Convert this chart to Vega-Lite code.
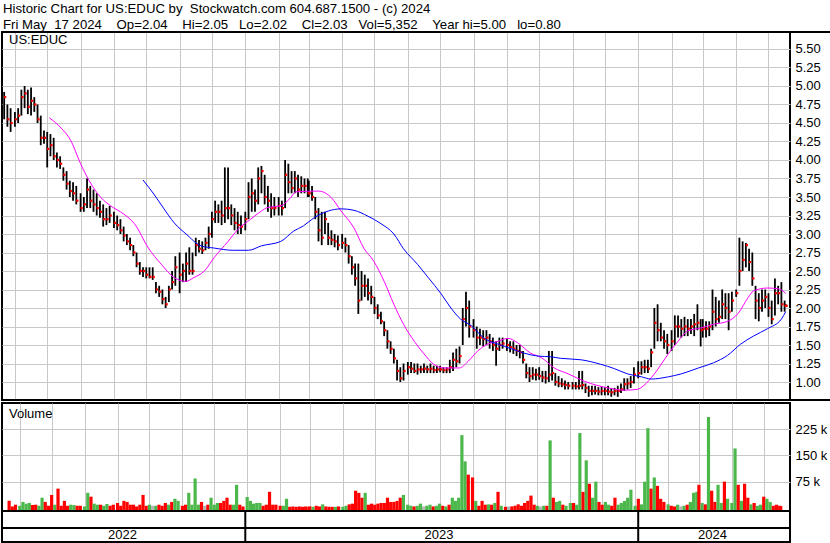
{
"$schema":"https://vega.github.io/schema/vega-lite/v6.json",
"background":"white",
"padding":{"left":0,"top":2,"right":0,"bottom":0},
"title":{"text":["Historic Chart for US:EDUC by\u00a0 Stockwatch.com 604.687.1500 - (c) 2024","Fri May\u00a0 17 2024\u00a0\u00a0\u00a0\u00a0Op=2.04\u00a0\u00a0\u00a0\u00a0Hi=2.05\u00a0\u00a0\u00a0Lo=2.02\u00a0\u00a0\u00a0\u00a0Cl=2.03\u00a0\u00a0\u00a0Vol=5,352\u00a0\u00a0\u00a0\u00a0Year hi=5.00\u00a0\u00a0\u00a0lo=0.80"],"anchor":"start","frame":"group","font":"Liberation Sans","fontSize":13.2,"fontWeight":"normal","color":"#000000","lineHeight":15.6,"offset":-2,"dx":1},
"config":{
 "view":{"stroke":"#000000","strokeWidth":2},
 "axis":{"labelFont":"Liberation Sans","labelFontSize":13,"labelColor":"#000000","gridColor":"#c8c8c8","gridWidth":1,"gridOpacity":1,"minExtent":0,"ticks":false,"tickSize":0,"domain":false}
},
"datasets":{
"px":[
{"d":"2022-05-22","h":4.92,"l":4.55,"c":4.85,"v":20,"u":0},
{"d":"2022-05-25","h":4.75,"l":4.45,"c":4.55,"v":4,"u":0},
{"d":"2022-05-28","h":4.70,"l":4.38,"c":4.50,"v":9,"u":0},
{"d":"2022-06-01","h":4.65,"l":4.45,"c":4.55,"v":6,"u":1},
{"d":"2022-06-04","h":4.70,"l":4.50,"c":4.60,"v":17,"u":1},
{"d":"2022-06-07","h":4.95,"l":4.60,"c":4.85,"v":12,"u":1},
{"d":"2022-06-10","h":5.00,"l":4.70,"c":4.90,"v":14,"u":1},
{"d":"2022-06-13","h":4.95,"l":4.62,"c":4.72,"v":8,"u":0},
{"d":"2022-06-16","h":4.98,"l":4.60,"c":4.80,"v":9,"u":0},
{"d":"2022-06-19","h":4.85,"l":4.65,"c":4.75,"v":6,"u":1},
{"d":"2022-06-22","h":4.75,"l":4.50,"c":4.55,"v":29,"u":1},
{"d":"2022-06-25","h":4.60,"l":4.20,"c":4.30,"v":17,"u":0},
{"d":"2022-06-28","h":4.40,"l":4.22,"c":4.30,"v":6,"u":0},
{"d":"2022-07-01","h":4.38,"l":3.90,"c":4.15,"v":37,"u":0},
{"d":"2022-07-04","h":4.35,"l":4.05,"c":4.20,"v":9,"u":1},
{"d":"2022-07-07","h":4.30,"l":4.00,"c":4.05,"v":55,"u":0},
{"d":"2022-07-10","h":4.10,"l":3.90,"c":4.00,"v":6,"u":0},
{"d":"2022-07-13","h":4.05,"l":3.88,"c":3.95,"v":20,"u":0},
{"d":"2022-07-16","h":3.90,"l":3.72,"c":3.80,"v":6,"u":0},
{"d":"2022-07-19","h":3.85,"l":3.60,"c":3.68,"v":9,"u":1},
{"d":"2022-07-22","h":3.72,"l":3.50,"c":3.58,"v":8,"u":1},
{"d":"2022-07-25","h":3.70,"l":3.45,"c":3.55,"v":6,"u":0},
{"d":"2022-07-28","h":3.65,"l":3.40,"c":3.45,"v":6,"u":0},
{"d":"2022-08-01","h":3.55,"l":3.30,"c":3.35,"v":4,"u":1},
{"d":"2022-08-04","h":3.50,"l":3.30,"c":3.40,"v":43,"u":1},
{"d":"2022-08-07","h":3.75,"l":3.35,"c":3.60,"v":32,"u":0},
{"d":"2022-08-10","h":3.65,"l":3.35,"c":3.45,"v":12,"u":1},
{"d":"2022-08-13","h":3.60,"l":3.30,"c":3.40,"v":9,"u":1},
{"d":"2022-08-16","h":3.55,"l":3.25,"c":3.35,"v":9,"u":0},
{"d":"2022-08-19","h":3.45,"l":3.22,"c":3.30,"v":6,"u":1},
{"d":"2022-08-22","h":3.40,"l":3.10,"c":3.20,"v":11,"u":1},
{"d":"2022-08-25","h":3.35,"l":3.12,"c":3.20,"v":6,"u":0},
{"d":"2022-08-28","h":3.38,"l":3.15,"c":3.25,"v":9,"u":0},
{"d":"2022-09-01","h":3.30,"l":3.08,"c":3.15,"v":14,"u":0},
{"d":"2022-09-04","h":3.25,"l":3.05,"c":3.12,"v":6,"u":0},
{"d":"2022-09-07","h":3.20,"l":3.00,"c":3.05,"v":20,"u":0},
{"d":"2022-09-10","h":3.10,"l":2.90,"c":2.98,"v":17,"u":0},
{"d":"2022-09-13","h":3.00,"l":2.85,"c":2.90,"v":9,"u":0},
{"d":"2022-09-16","h":2.95,"l":2.78,"c":2.85,"v":9,"u":0},
{"d":"2022-09-19","h":2.85,"l":2.70,"c":2.75,"v":4,"u":0},
{"d":"2022-09-22","h":2.75,"l":2.55,"c":2.60,"v":9,"u":0},
{"d":"2022-09-25","h":2.62,"l":2.45,"c":2.50,"v":37,"u":0},
{"d":"2022-09-28","h":2.55,"l":2.42,"c":2.50,"v":6,"u":0},
{"d":"2022-10-01","h":2.55,"l":2.40,"c":2.45,"v":9,"u":1},
{"d":"2022-10-04","h":2.55,"l":2.40,"c":2.42,"v":6,"u":2},
{"d":"2022-10-07","h":2.55,"l":2.38,"c":2.42,"v":6,"u":1},
{"d":"2022-10-10","h":2.35,"l":2.20,"c":2.25,"v":9,"u":0},
{"d":"2022-10-13","h":2.30,"l":2.15,"c":2.22,"v":6,"u":0},
{"d":"2022-10-16","h":2.25,"l":2.05,"c":2.12,"v":14,"u":0},
{"d":"2022-10-19","h":2.15,"l":2.00,"c":2.05,"v":9,"u":1},
{"d":"2022-10-22","h":2.30,"l":2.08,"c":2.25,"v":17,"u":0},
{"d":"2022-10-25","h":2.50,"l":2.25,"c":2.35,"v":26,"u":1},
{"d":"2022-10-28","h":2.70,"l":2.30,"c":2.55,"v":20,"u":1},
{"d":"2022-11-01","h":2.75,"l":2.20,"c":2.45,"v":6,"u":0},
{"d":"2022-11-04","h":2.60,"l":2.35,"c":2.50,"v":9,"u":0},
{"d":"2022-11-07","h":2.75,"l":2.35,"c":2.60,"v":43,"u":1},
{"d":"2022-11-10","h":2.82,"l":2.45,"c":2.50,"v":9,"u":1},
{"d":"2022-11-13","h":2.75,"l":2.45,"c":2.50,"v":84,"u":1},
{"d":"2022-11-16","h":2.95,"l":2.70,"c":2.85,"v":9,"u":1},
{"d":"2022-11-19","h":2.92,"l":2.75,"c":2.80,"v":17,"u":0},
{"d":"2022-11-22","h":2.90,"l":2.73,"c":2.78,"v":6,"u":2},
{"d":"2022-11-25","h":2.95,"l":2.78,"c":2.88,"v":9,"u":0},
{"d":"2022-11-28","h":3.10,"l":2.80,"c":3.00,"v":29,"u":1},
{"d":"2022-12-01","h":3.30,"l":2.95,"c":3.20,"v":9,"u":1},
{"d":"2022-12-04","h":3.45,"l":3.15,"c":3.30,"v":14,"u":1},
{"d":"2022-12-07","h":3.40,"l":3.15,"c":3.30,"v":14,"u":0},
{"d":"2022-12-10","h":3.45,"l":3.12,"c":3.25,"v":20,"u":0},
{"d":"2022-12-13","h":3.90,"l":3.15,"c":3.35,"v":29,"u":0},
{"d":"2022-12-16","h":3.90,"l":3.20,"c":3.35,"v":9,"u":0},
{"d":"2022-12-19","h":3.40,"l":3.12,"c":3.25,"v":9,"u":1},
{"d":"2022-12-22","h":3.35,"l":3.05,"c":3.15,"v":66,"u":1},
{"d":"2022-12-25","h":3.30,"l":3.00,"c":3.12,"v":9,"u":0},
{"d":"2022-12-28","h":3.25,"l":3.00,"c":3.10,"v":4,"u":0},
{"d":"2023-01-01","h":3.30,"l":3.05,"c":3.20,"v":31,"u":1},
{"d":"2023-01-04","h":3.70,"l":3.20,"c":3.50,"v":20,"u":1},
{"d":"2023-01-07","h":3.75,"l":3.30,"c":3.55,"v":12,"u":1},
{"d":"2023-01-10","h":3.60,"l":3.30,"c":3.45,"v":14,"u":1},
{"d":"2023-01-13","h":3.90,"l":3.40,"c":3.75,"v":14,"u":1},
{"d":"2023-01-16","h":3.92,"l":3.55,"c":3.85,"v":6,"u":0},
{"d":"2023-01-19","h":3.80,"l":3.40,"c":3.50,"v":9,"u":0},
{"d":"2023-01-22","h":3.65,"l":3.30,"c":3.45,"v":46,"u":0},
{"d":"2023-01-25","h":3.55,"l":3.22,"c":3.35,"v":9,"u":0},
{"d":"2023-01-28","h":3.50,"l":3.25,"c":3.35,"v":9,"u":0},
{"d":"2023-02-01","h":3.50,"l":3.25,"c":3.38,"v":6,"u":0},
{"d":"2023-02-04","h":3.45,"l":3.25,"c":3.35,"v":6,"u":1},
{"d":"2023-02-07","h":4.00,"l":3.35,"c":3.80,"v":26,"u":1},
{"d":"2023-02-10","h":3.95,"l":3.55,"c":3.70,"v":3,"u":0},
{"d":"2023-02-13","h":3.85,"l":3.55,"c":3.62,"v":4,"u":0},
{"d":"2023-02-16","h":3.85,"l":3.55,"c":3.75,"v":3,"u":0},
{"d":"2023-02-19","h":3.80,"l":3.50,"c":3.60,"v":4,"u":0},
{"d":"2023-02-22","h":3.78,"l":3.55,"c":3.65,"v":3,"u":0},
{"d":"2023-02-25","h":3.75,"l":3.55,"c":3.65,"v":4,"u":0},
{"d":"2023-02-28","h":3.75,"l":3.50,"c":3.55,"v":3,"u":0},
{"d":"2023-03-01","h":3.72,"l":3.50,"c":3.55,"v":4,"u":0},
{"d":"2023-03-04","h":3.65,"l":3.45,"c":3.50,"v":3,"u":1},
{"d":"2023-03-07","h":3.50,"l":3.20,"c":3.30,"v":6,"u":0},
{"d":"2023-03-10","h":3.35,"l":2.90,"c":3.05,"v":4,"u":0},
{"d":"2023-03-13","h":3.30,"l":2.85,"c":2.95,"v":10,"u":1},
{"d":"2023-03-16","h":3.30,"l":3.00,"c":3.20,"v":4,"u":0},
{"d":"2023-03-19","h":3.15,"l":2.85,"c":2.95,"v":3,"u":0},
{"d":"2023-03-22","h":3.05,"l":2.85,"c":2.92,"v":3,"u":0},
{"d":"2023-03-25","h":3.00,"l":2.82,"c":2.90,"v":3,"u":1},
{"d":"2023-03-28","h":2.98,"l":2.78,"c":2.85,"v":4,"u":0},
{"d":"2023-04-01","h":3.00,"l":2.80,"c":2.88,"v":3,"u":1},
{"d":"2023-04-04","h":2.95,"l":2.75,"c":2.85,"v":6,"u":1},
{"d":"2023-04-07","h":2.85,"l":2.60,"c":2.70,"v":10,"u":0},
{"d":"2023-04-10","h":2.70,"l":2.45,"c":2.55,"v":12,"u":0},
{"d":"2023-04-13","h":2.60,"l":2.30,"c":2.40,"v":49,"u":0},
{"d":"2023-04-16","h":2.60,"l":1.92,"c":2.10,"v":43,"u":0},
{"d":"2023-04-19","h":2.50,"l":2.10,"c":2.30,"v":29,"u":0},
{"d":"2023-04-22","h":2.45,"l":2.15,"c":2.30,"v":43,"u":1},
{"d":"2023-04-25","h":2.40,"l":2.10,"c":2.20,"v":9,"u":0},
{"d":"2023-04-28","h":2.30,"l":2.05,"c":2.15,"v":12,"u":0},
{"d":"2023-05-01","h":2.15,"l":1.92,"c":2.00,"v":9,"u":0},
{"d":"2023-05-04","h":2.05,"l":1.85,"c":1.90,"v":12,"u":0},
{"d":"2023-05-07","h":1.95,"l":1.78,"c":1.82,"v":14,"u":0},
{"d":"2023-05-10","h":1.82,"l":1.62,"c":1.70,"v":14,"u":0},
{"d":"2023-05-13","h":1.70,"l":1.45,"c":1.55,"v":29,"u":0},
{"d":"2023-05-16","h":1.55,"l":1.38,"c":1.45,"v":17,"u":0},
{"d":"2023-05-19","h":1.45,"l":1.25,"c":1.32,"v":17,"u":0},
{"d":"2023-05-22","h":1.30,"l":1.02,"c":1.15,"v":20,"u":0},
{"d":"2023-05-25","h":1.20,"l":1.00,"c":1.05,"v":29,"u":0},
{"d":"2023-05-28","h":1.25,"l":1.02,"c":1.15,"v":37,"u":1},
{"d":"2023-06-01","h":1.27,"l":1.10,"c":1.20,"v":9,"u":1},
{"d":"2023-06-04","h":1.27,"l":1.12,"c":1.18,"v":6,"u":1},
{"d":"2023-06-07","h":1.25,"l":1.12,"c":1.15,"v":4,"u":0},
{"d":"2023-06-10","h":1.25,"l":1.10,"c":1.17,"v":6,"u":1},
{"d":"2023-06-13","h":1.22,"l":1.12,"c":1.17,"v":12,"u":1},
{"d":"2023-06-16","h":1.25,"l":1.12,"c":1.18,"v":4,"u":2},
{"d":"2023-06-19","h":1.22,"l":1.12,"c":1.17,"v":6,"u":1},
{"d":"2023-06-22","h":1.25,"l":1.12,"c":1.18,"v":9,"u":1},
{"d":"2023-06-25","h":1.22,"l":1.12,"c":1.16,"v":4,"u":0},
{"d":"2023-06-28","h":1.22,"l":1.12,"c":1.17,"v":6,"u":1},
{"d":"2023-07-01","h":1.22,"l":1.13,"c":1.17,"v":12,"u":1},
{"d":"2023-07-04","h":1.20,"l":1.12,"c":1.16,"v":6,"u":0},
{"d":"2023-07-07","h":1.20,"l":1.12,"c":1.17,"v":4,"u":1},
{"d":"2023-07-10","h":1.30,"l":1.12,"c":1.20,"v":9,"u":0},
{"d":"2023-07-13","h":1.40,"l":1.15,"c":1.30,"v":29,"u":1},
{"d":"2023-07-16","h":1.45,"l":1.20,"c":1.28,"v":20,"u":1},
{"d":"2023-07-19","h":1.48,"l":1.25,"c":1.35,"v":29,"u":1},
{"d":"2023-07-22","h":2.00,"l":1.50,"c":1.85,"v":208,"u":1},
{"d":"2023-07-25","h":2.22,"l":1.75,"c":2.00,"v":133,"u":1},
{"d":"2023-07-28","h":2.10,"l":1.60,"c":1.75,"v":95,"u":0},
{"d":"2023-08-01","h":1.85,"l":1.60,"c":1.70,"v":87,"u":0},
{"d":"2023-08-04","h":1.75,"l":1.45,"c":1.60,"v":20,"u":1},
{"d":"2023-08-07","h":1.72,"l":1.50,"c":1.60,"v":6,"u":0},
{"d":"2023-08-10","h":1.70,"l":1.48,"c":1.58,"v":20,"u":0},
{"d":"2023-08-13","h":1.70,"l":1.50,"c":1.60,"v":9,"u":0},
{"d":"2023-08-16","h":1.65,"l":1.45,"c":1.55,"v":10,"u":1},
{"d":"2023-08-19","h":1.60,"l":1.42,"c":1.50,"v":9,"u":0},
{"d":"2023-08-22","h":1.55,"l":1.22,"c":1.45,"v":14,"u":1},
{"d":"2023-08-25","h":1.60,"l":1.42,"c":1.50,"v":46,"u":0},
{"d":"2023-08-28","h":1.60,"l":1.45,"c":1.52,"v":6,"u":1},
{"d":"2023-09-01","h":1.58,"l":1.42,"c":1.50,"v":3,"u":0},
{"d":"2023-09-04","h":1.55,"l":1.40,"c":1.47,"v":4,"u":2},
{"d":"2023-09-07","h":1.55,"l":1.38,"c":1.45,"v":4,"u":0},
{"d":"2023-09-10","h":1.50,"l":1.35,"c":1.42,"v":6,"u":0},
{"d":"2023-09-13","h":1.50,"l":1.32,"c":1.40,"v":10,"u":0},
{"d":"2023-09-16","h":1.42,"l":1.25,"c":1.30,"v":6,"u":0},
{"d":"2023-09-19","h":1.25,"l":1.05,"c":1.12,"v":14,"u":0},
{"d":"2023-09-22","h":1.20,"l":1.00,"c":1.08,"v":20,"u":0},
{"d":"2023-09-25","h":1.20,"l":1.03,"c":1.10,"v":35,"u":0},
{"d":"2023-09-28","h":1.18,"l":1.02,"c":1.10,"v":9,"u":0},
{"d":"2023-10-01","h":1.20,"l":1.03,"c":1.08,"v":6,"u":1},
{"d":"2023-10-04","h":1.15,"l":1.00,"c":1.06,"v":4,"u":2},
{"d":"2023-10-07","h":1.15,"l":0.98,"c":1.05,"v":6,"u":1},
{"d":"2023-10-10","h":1.42,"l":1.00,"c":1.10,"v":6,"u":0},
{"d":"2023-10-13","h":1.42,"l":1.02,"c":1.12,"v":193,"u":1},
{"d":"2023-10-16","h":1.12,"l":0.95,"c":1.00,"v":29,"u":0},
{"d":"2023-10-19","h":1.08,"l":0.93,"c":0.98,"v":17,"u":1},
{"d":"2023-10-22","h":1.05,"l":0.93,"c":0.97,"v":20,"u":1},
{"d":"2023-10-25","h":1.02,"l":0.90,"c":0.96,"v":9,"u":0},
{"d":"2023-10-28","h":1.00,"l":0.90,"c":0.95,"v":6,"u":1},
{"d":"2023-11-01","h":1.00,"l":0.90,"c":0.95,"v":14,"u":1},
{"d":"2023-11-04","h":1.00,"l":0.90,"c":0.94,"v":14,"u":0},
{"d":"2023-11-07","h":1.15,"l":0.90,"c":0.95,"v":9,"u":1},
{"d":"2023-11-10","h":1.15,"l":0.90,"c":0.96,"v":214,"u":1},
{"d":"2023-11-13","h":0.98,"l":0.85,"c":0.92,"v":46,"u":0},
{"d":"2023-11-16","h":0.95,"l":0.80,"c":0.88,"v":136,"u":1},
{"d":"2023-11-19","h":0.95,"l":0.82,"c":0.88,"v":69,"u":0},
{"d":"2023-11-22","h":0.95,"l":0.83,"c":0.88,"v":29,"u":1},
{"d":"2023-11-25","h":0.93,"l":0.82,"c":0.87,"v":75,"u":1},
{"d":"2023-11-28","h":0.94,"l":0.82,"c":0.88,"v":17,"u":0},
{"d":"2023-12-01","h":0.93,"l":0.82,"c":0.88,"v":9,"u":0},
{"d":"2023-12-04","h":0.95,"l":0.82,"c":0.87,"v":17,"u":1},
{"d":"2023-12-07","h":0.92,"l":0.80,"c":0.86,"v":9,"u":1},
{"d":"2023-12-10","h":0.92,"l":0.82,"c":0.88,"v":6,"u":0},
{"d":"2023-12-13","h":0.95,"l":0.80,"c":0.88,"v":29,"u":0},
{"d":"2023-12-16","h":0.98,"l":0.85,"c":0.90,"v":9,"u":1},
{"d":"2023-12-19","h":1.05,"l":0.88,"c":0.97,"v":14,"u":1},
{"d":"2023-12-22","h":1.05,"l":0.90,"c":0.98,"v":20,"u":1},
{"d":"2023-12-25","h":1.08,"l":0.92,"c":1.00,"v":29,"u":1},
{"d":"2023-12-28","h":1.20,"l":0.98,"c":1.10,"v":52,"u":1},
{"d":"2024-01-01","h":1.28,"l":1.05,"c":1.12,"v":6,"u":1},
{"d":"2024-01-04","h":1.28,"l":1.10,"c":1.20,"v":26,"u":0},
{"d":"2024-01-07","h":1.30,"l":1.12,"c":1.20,"v":10,"u":1},
{"d":"2024-01-10","h":1.30,"l":1.12,"c":1.18,"v":75,"u":1},
{"d":"2024-01-13","h":1.45,"l":1.20,"c":1.40,"v":228,"u":1},
{"d":"2024-01-16","h":2.00,"l":1.45,"c":1.80,"v":55,"u":0},
{"d":"2024-01-19","h":2.05,"l":1.55,"c":1.70,"v":87,"u":1},
{"d":"2024-01-22","h":1.80,"l":1.55,"c":1.60,"v":63,"u":0},
{"d":"2024-01-25","h":1.70,"l":1.45,"c":1.55,"v":26,"u":0},
{"d":"2024-01-28","h":1.65,"l":1.38,"c":1.50,"v":17,"u":0},
{"d":"2024-02-01","h":1.70,"l":1.42,"c":1.55,"v":10,"u":1},
{"d":"2024-02-04","h":1.90,"l":1.50,"c":1.75,"v":6,"u":0},
{"d":"2024-02-07","h":1.90,"l":1.60,"c":1.75,"v":4,"u":0},
{"d":"2024-02-10","h":1.85,"l":1.60,"c":1.72,"v":9,"u":1},
{"d":"2024-02-13","h":1.88,"l":1.62,"c":1.75,"v":4,"u":2},
{"d":"2024-02-16","h":1.85,"l":1.62,"c":1.72,"v":6,"u":1},
{"d":"2024-02-19","h":1.85,"l":1.65,"c":1.75,"v":9,"u":0},
{"d":"2024-02-22","h":1.92,"l":1.62,"c":1.78,"v":17,"u":1},
{"d":"2024-02-25","h":2.05,"l":1.70,"c":1.80,"v":43,"u":1},
{"d":"2024-02-28","h":1.85,"l":1.48,"c":1.70,"v":46,"u":1},
{"d":"2024-03-01","h":1.85,"l":1.60,"c":1.72,"v":66,"u":0},
{"d":"2024-03-04","h":1.82,"l":1.60,"c":1.72,"v":14,"u":1},
{"d":"2024-03-07","h":1.82,"l":1.62,"c":1.75,"v":10,"u":0},
{"d":"2024-03-10","h":2.25,"l":1.70,"c":1.95,"v":260,"u":1},
{"d":"2024-03-13","h":2.15,"l":1.75,"c":1.85,"v":49,"u":0},
{"d":"2024-03-16","h":2.10,"l":1.80,"c":1.88,"v":17,"u":0},
{"d":"2024-03-19","h":2.25,"l":1.85,"c":2.05,"v":66,"u":1},
{"d":"2024-03-22","h":2.20,"l":1.85,"c":2.00,"v":14,"u":1},
{"d":"2024-03-25","h":2.20,"l":1.70,"c":1.95,"v":75,"u":0},
{"d":"2024-03-28","h":2.22,"l":1.95,"c":2.10,"v":26,"u":1},
{"d":"2024-04-01","h":2.25,"l":2.15,"c":2.20,"v":14,"u":1},
{"d":"2024-04-04","h":2.95,"l":2.30,"c":2.50,"v":170,"u":1},
{"d":"2024-04-07","h":2.90,"l":2.50,"c":2.65,"v":66,"u":0},
{"d":"2024-04-10","h":2.88,"l":2.55,"c":2.85,"v":20,"u":1},
{"d":"2024-04-13","h":2.80,"l":2.50,"c":2.62,"v":69,"u":0},
{"d":"2024-04-16","h":2.75,"l":2.30,"c":2.40,"v":29,"u":0},
{"d":"2024-04-19","h":2.30,"l":1.85,"c":2.10,"v":10,"u":1},
{"d":"2024-04-22","h":2.20,"l":1.82,"c":2.00,"v":14,"u":0},
{"d":"2024-04-25","h":2.25,"l":1.95,"c":2.10,"v":6,"u":1},
{"d":"2024-04-28","h":2.25,"l":2.00,"c":2.15,"v":9,"u":1},
{"d":"2024-05-01","h":2.20,"l":1.88,"c":2.00,"v":32,"u":0},
{"d":"2024-05-04","h":2.10,"l":1.78,"c":1.85,"v":26,"u":1},
{"d":"2024-05-07","h":2.40,"l":1.90,"c":2.20,"v":17,"u":1},
{"d":"2024-05-10","h":2.30,"l":2.05,"c":2.20,"v":6,"u":0},
{"d":"2024-05-13","h":2.35,"l":1.95,"c":2.05,"v":9,"u":0},
{"d":"2024-05-16","h":2.10,"l":1.95,"c":2.03,"v":6,"u":0},
{"d":"2024-05-17","h":2.05,"l":2.02,"c":2.03,"v":5,"u":0}
],
"ma1":[
{"d":"2022-07-03","m":4.57},{"d":"2022-07-14","m":4.43},{"d":"2022-07-23","m":4.26},{"d":"2022-08-01","m":3.95},{"d":"2022-08-09","m":3.72},{"d":"2022-08-20","m":3.49},{"d":"2022-08-29","m":3.38},{"d":"2022-09-10","m":3.27},{"d":"2022-09-20","m":3.14},{"d":"2022-10-03","m":2.81},{"d":"2022-10-15","m":2.59},{"d":"2022-10-27","m":2.41},{"d":"2022-11-07","m":2.36},{"d":"2022-11-14","m":2.41},{"d":"2022-11-24","m":2.50},{"d":"2022-12-03","m":2.68},{"d":"2022-12-16","m":2.90},{"d":"2022-12-25","m":3.06},{"d":"2023-01-06","m":3.20},{"d":"2023-01-16","m":3.31},{"d":"2023-01-22","m":3.36},{"d":"2023-02-03","m":3.38},{"d":"2023-02-12","m":3.49},{"d":"2023-02-17","m":3.57},{"d":"2023-03-10","m":3.58},{"d":"2023-03-22","m":3.49},{"d":"2023-03-31","m":3.31},{"d":"2023-04-12","m":3.08},{"d":"2023-04-21","m":2.81},{"d":"2023-04-30","m":2.64},{"d":"2023-05-10","m":2.36},{"d":"2023-05-19","m":2.05},{"d":"2023-05-28","m":1.78},{"d":"2023-06-07","m":1.55},{"d":"2023-06-16","m":1.38},{"d":"2023-06-25","m":1.24},{"d":"2023-07-05","m":1.19},{"d":"2023-07-19","m":1.19},{"d":"2023-07-27","m":1.28},{"d":"2023-08-05","m":1.42},{"d":"2023-08-14","m":1.51},{"d":"2023-08-24","m":1.55},{"d":"2023-09-02","m":1.59},{"d":"2023-09-11","m":1.53},{"d":"2023-09-23","m":1.39},{"d":"2023-10-03","m":1.33},{"d":"2023-10-15","m":1.19},{"d":"2023-10-28","m":1.11},{"d":"2023-11-12","m":1.01},{"d":"2023-12-04","m":0.92},{"d":"2023-12-19","m":0.89},{"d":"2023-12-31","m":0.90},{"d":"2024-01-06","m":0.95},{"d":"2024-01-16","m":1.11},{"d":"2024-01-29","m":1.38},{"d":"2024-02-07","m":1.55},{"d":"2024-02-16","m":1.69},{"d":"2024-02-28","m":1.73},{"d":"2024-03-11","m":1.78},{"d":"2024-03-24","m":1.82},{"d":"2024-04-03","m":1.93},{"d":"2024-04-12","m":2.14},{"d":"2024-04-17","m":2.23},{"d":"2024-04-30","m":2.27},{"d":"2024-05-10","m":2.26},{"d":"2024-05-17","m":2.20}
],
"ma2":[
{"d":"2022-09-28","m":3.73},{"d":"2022-10-08","m":3.54},{"d":"2022-10-17","m":3.35},{"d":"2022-10-27","m":3.15},{"d":"2022-11-07","m":3.00},{"d":"2022-11-21","m":2.84},{"d":"2022-12-03","m":2.81},{"d":"2022-12-21","m":2.78},{"d":"2023-01-04","m":2.78},{"d":"2023-01-16","m":2.84},{"d":"2023-02-03","m":2.90},{"d":"2023-02-15","m":3.04},{"d":"2023-02-24","m":3.11},{"d":"2023-03-06","m":3.22},{"d":"2023-03-19","m":3.31},{"d":"2023-03-31","m":3.34},{"d":"2023-04-12","m":3.32},{"d":"2023-04-25","m":3.24},{"d":"2023-05-07","m":3.14},{"d":"2023-05-19","m":3.00},{"d":"2023-05-28","m":2.80},{"d":"2023-06-10","m":2.59},{"d":"2023-06-20","m":2.41},{"d":"2023-07-02","m":2.19},{"d":"2023-07-11","m":2.00},{"d":"2023-07-20","m":1.85},{"d":"2023-07-30","m":1.76},{"d":"2023-08-11","m":1.59},{"d":"2023-08-24","m":1.51},{"d":"2023-09-05","m":1.45},{"d":"2023-09-17","m":1.39},{"d":"2023-09-30","m":1.35},{"d":"2023-10-12","m":1.34},{"d":"2023-10-21","m":1.32},{"d":"2023-11-09","m":1.30},{"d":"2023-11-27","m":1.24},{"d":"2023-12-10","m":1.18},{"d":"2023-12-22","m":1.11},{"d":"2024-01-04","m":1.07},{"d":"2024-01-13","m":1.04},{"d":"2024-01-29","m":1.07},{"d":"2024-02-10","m":1.11},{"d":"2024-02-26","m":1.19},{"d":"2024-03-11","m":1.26},{"d":"2024-03-24","m":1.36},{"d":"2024-04-05","m":1.51},{"d":"2024-04-17","m":1.62},{"d":"2024-04-30","m":1.72},{"d":"2024-05-13","m":1.85},{"d":"2024-05-17","m":1.95}
],
"edges":[{"d":"2022-05-20","d2":"2024-06-30","p":5.7297},{"d":"2022-05-20","d2":"2024-06-30","p":0.7568}],
"yb":[{"d":"2023-01-01"},{"d":"2024-01-01"}],
"yr":[{"d":"2022-09-09","t":"2022"},{"d":"2023-06-30","t":"2023"},{"d":"2024-03-10","t":"2024"}]
},
"bounds":"flush",
"spacing":3,
"vconcat":[
{
 "width":788,"height":368,
 "title":{"text":"US:EDUC","anchor":"start","frame":"group","offset":-16,"dx":7,"font":"Liberation Sans","fontSize":13,"fontWeight":"normal","color":"#000000"},
 "encoding":{"x":{"field":"d","type":"temporal","scale":{"type":"utc","domain":[{"year":2022,"month":5,"date":20,"utc":true},{"year":2024,"month":5,"date":21,"utc":true}]},"axis":{"grid":true,"labels":false,"tickCount":{"interval":"month","step":1},"title":null}}},
 "layer":[
  {"data":{"name":"px"},"mark":{"type":"rule","color":"#000000","strokeWidth":1.8},
   "encoding":{"y":{"field":"l","type":"quantitative","scale":{"domain":[0.7568,5.7297],"nice":false,"zero":false},"axis":{"orient":"right","values":[1,1.25,1.5,1.75,2,2.25,2.5,2.75,3,3.25,3.5,3.75,4,4.25,4.5,4.75,5,5.25,5.5],"labelExpr":"format(datum.value, '.2f')","labelOverlap":false,"grid":true,"labelPadding":5,"title":null}},"y2":{"field":"h"}}},
  {"data":{"name":"px"},"mark":{"type":"square","color":"#ff0000","size":5,"opacity":1,"xOffset":1},
   "encoding":{"y":{"field":"c","type":"quantitative","scale":{"domain":[0.7568,5.7297],"nice":false,"zero":false},"axis":{"orient":"right","values":[1,1.25,1.5,1.75,2,2.25,2.5,2.75,3,3.25,3.5,3.75,4,4.25,4.5,4.75,5,5.25,5.5],"labelExpr":"format(datum.value, '.2f')","labelOverlap":false,"grid":true,"labelPadding":5,"title":null}}}},
  {"data":{"name":"ma1"},"mark":{"type":"line","color":"#ff00ff","strokeWidth":1,"interpolate":"monotone"},
   "encoding":{"y":{"field":"m","type":"quantitative","scale":{"domain":[0.7568,5.7297],"nice":false,"zero":false},"axis":{"orient":"right","values":[1,1.25,1.5,1.75,2,2.25,2.5,2.75,3,3.25,3.5,3.75,4,4.25,4.5,4.75,5,5.25,5.5],"labelExpr":"format(datum.value, '.2f')","labelOverlap":false,"grid":true,"labelPadding":5,"title":null}}}},
  {"data":{"name":"ma2"},"mark":{"type":"line","color":"#0000ff","strokeWidth":1,"interpolate":"monotone"},
   "encoding":{"y":{"field":"m","type":"quantitative","scale":{"domain":[0.7568,5.7297],"nice":false,"zero":false},"axis":{"orient":"right","values":[1,1.25,1.5,1.75,2,2.25,2.5,2.75,3,3.25,3.5,3.75,4,4.25,4.5,4.75,5,5.25,5.5],"labelExpr":"format(datum.value, '.2f')","labelOverlap":false,"grid":true,"labelPadding":5,"title":null}}}},
  {"data":{"name":"edges"},"mark":{"type":"rule","color":"#000000","strokeWidth":2},
   "encoding":{"x2":{"field":"d2"},"y":{"field":"p","type":"quantitative","scale":{"domain":[0.7568,5.7297],"nice":false,"zero":false},"axis":{"orient":"right","values":[1,1.25,1.5,1.75,2,2.25,2.5,2.75,3,3.25,3.5,3.75,4,4.25,4.5,4.75,5,5.25,5.5],"labelExpr":"format(datum.value, '.2f')","labelOverlap":false,"grid":true,"labelPadding":5,"title":null}}}}
 ]
},
{
 "bounds":"flush",
 "spacing":0,
 "vconcat":[
  {
   "width":788,"height":108,
   "title":{"text":"Volume","anchor":"start","frame":"group","offset":-18,"dx":7,"font":"Liberation Sans","fontSize":13,"fontWeight":"normal","color":"#000000"},
   "data":{"name":"px"},
   "mark":{"type":"bar","width":3.2},
   "encoding":{
    "x":{"field":"d","type":"temporal","scale":{"type":"utc","domain":[{"year":2022,"month":5,"date":20,"utc":true},{"year":2024,"month":5,"date":21,"utc":true}]},"axis":{"grid":true,"labels":false,"tickCount":{"interval":"month","step":1},"title":null}},
    "y":{"field":"v","type":"quantitative","scale":{"domain":[-9,300],"nice":false,"zero":false},"axis":{"orient":"right","values":[75,150,225],"labelExpr":"datum.value + ' k'","grid":true,"labelPadding":5,"title":null}},
    "y2":{"datum":-9},
    "color":{"field":"u","type":"nominal","scale":{"domain":[0,1,2],"range":["#ff0000","#4cb84c","#b4b4b4"]},"legend":null}
   }
  },
  {
   "width":788,"height":17,
   "data":{"name":"yb"},
   "mark":{"type":"rule","color":"#000000","strokeWidth":2},
   "encoding":{"x":{"field":"d","type":"temporal","scale":{"type":"utc","domain":[{"year":2022,"month":5,"date":20,"utc":true},{"year":2024,"month":5,"date":21,"utc":true}]},"axis":null}}
  },
  {
   "width":788,"height":14,
   "encoding":{"x":{"field":"d","type":"temporal","scale":{"type":"utc","domain":[{"year":2022,"month":5,"date":20,"utc":true},{"year":2024,"month":5,"date":21,"utc":true}]},"axis":null}},
   "layer":[
    {"data":{"name":"yb"},"mark":{"type":"rule","color":"#000000","strokeWidth":2}},
    {"data":{"name":"yr"},"mark":{"type":"text","font":"Liberation Sans","fontSize":13,"color":"#000000"},"encoding":{"text":{"field":"t"}}}
   ]
  }
 ]
}
]
}
